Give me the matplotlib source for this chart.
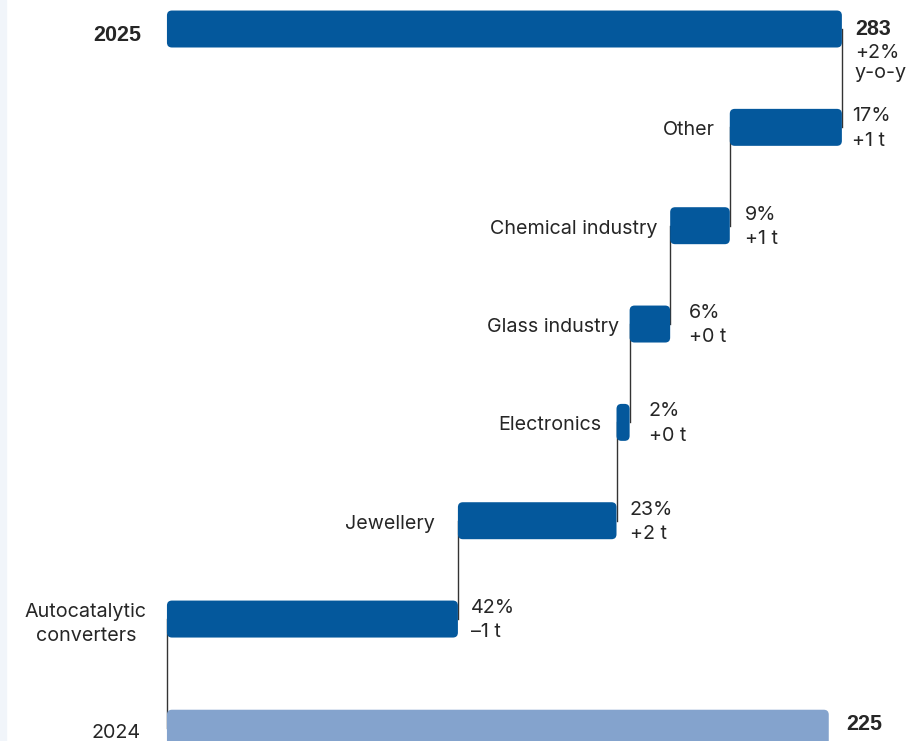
import matplotlib.pyplot as plt
from matplotlib.patches import FancyBboxPatch, Rectangle

# 2025 demand by segment, tonnes (bottom to top of the waterfall)
categories = ['Autocatalytic\nconverters', 'Jewellery', 'Electronics',
              'Glass industry', 'Chemical industry', 'Other']
volumes = [122, 66.5, 5.5, 17, 25, 47]
shares = ['42%', '23%', '2%', '6%', '9%', '17%']
changes = ['–1 t', '+2 t', '+0 t', '+0 t', '+1 t', '+1 t']

total_2024 = 277.5
total_2025 = 283
label_2024 = '225'
label_2025 = '283'
yoy = ['+2%', 'y-o-y']

DARK = '#04589c'
LIGHT = '#84a3cd'
TEXT = '#262626'
REG = 'Inter'
BOLD = 'Liberation Sans'
FS = 14.2

W, H = 912, 741
fig = plt.figure(figsize=(W / 100, H / 100), dpi=100)
ax = fig.add_axes([0, 0, 1, 1])
xlim = (-70.0, 312.4)
ylim = (7.24, -0.295)
ax.set_xlim(*xlim)
ax.set_ylim(*ylim)
ax.axis('off')

px_x = W / (xlim[1] - xlim[0])
px_y = H / (ylim[0] - ylim[1])

fig.patches.append(Rectangle((0, 0), 6 / W, 1, transform=fig.transFigure,
                             color='#f1f5fa', zorder=0))

bar_h = 0.376


def rbar(left, width, y, color, radius=5):
    p = FancyBboxPatch((left, y - bar_h / 2), width, bar_h,
                       boxstyle=f'round,pad=0,rounding_size={radius / px_x}',
                       mutation_aspect=px_x / px_y,
                       facecolor=color, edgecolor='none', zorder=3)
    ax.add_patch(p)


def link(x, y1, y2):
    ax.plot([x, x], [y1, y2], color='#333333', lw=1, zorder=2)


# positions (top = 0)
y_2025 = 0
y_2024 = 7.11
ys = [6, 5, 4, 3, 2, 1]
name_gap = [20, 23, 15, 10, 13, 15]
value_gap = [13, 13, 19, 19, 15, 10]

# 2024 base bar
rbar(0, total_2024, y_2024, LIGHT)
ax.annotate('2024', (0, y_2024), xytext=(-26, -5), textcoords='offset pixels',
            ha='right', va='center', fontsize=FS, family=REG, color=TEXT)
ax.annotate(label_2024, (total_2024, y_2024), xytext=(17, 4), textcoords='offset pixels',
            ha='left', va='center', fontsize=15.5, family=BOLD, weight='bold', color=TEXT)

link(0, y_2024, ys[0])

left = 0
for i, (cat, v, s, c, y) in enumerate(zip(categories, volumes, shares, changes, ys)):
    rbar(left, v, y, DARK)
    dy = -5 if '\n' in cat else -3
    ax.annotate(cat, (left, y), xytext=(-name_gap[i], dy), textcoords='offset pixels',
                ha='right', va='center', multialignment='center',
                fontsize=FS, family=REG, color=TEXT, linespacing=1.45)
    ax.annotate(f'{s}\n{c}', (left + v, y), xytext=(value_gap[i], -1),
                textcoords='offset pixels', ha='left', va='center',
                fontsize=FS, family=REG, color=TEXT, linespacing=1.45)
    left += v
    ny = ys[i + 1] if i + 1 < len(ys) else y_2025
    link(left, y, ny)

# 2025 total bar
rbar(0, total_2025, y_2025, DARK)
ax.annotate('2025', (0, y_2025), xytext=(-26, -6), textcoords='offset pixels',
            ha='right', va='center', fontsize=15.5, family=BOLD, weight='bold', color=TEXT)
ax.annotate(label_2025, (total_2025, y_2025), xytext=(13, 0), textcoords='offset pixels',
            ha='left', va='center', fontsize=15.5, family=BOLD, weight='bold', color=TEXT)
ax.annotate(yoy[0], (total_2025, y_2025), xytext=(13, -24), textcoords='offset pixels',
            ha='left', va='center', fontsize=FS, family=REG, color=TEXT)
ax.annotate(yoy[1], (total_2025, y_2025), xytext=(13, -44), textcoords='offset pixels',
            ha='left', va='center', fontsize=FS, family=REG, color=TEXT)

fig.savefig('out.png', dpi=100)
